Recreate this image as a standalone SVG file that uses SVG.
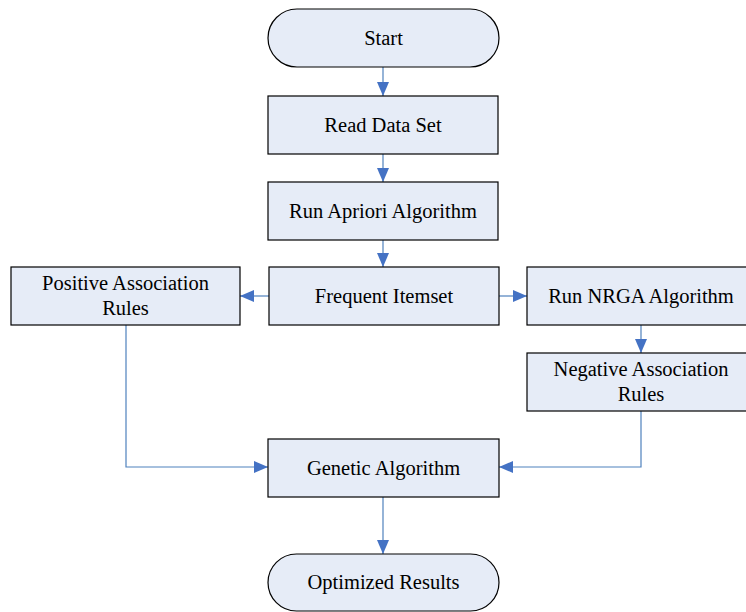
<svg xmlns="http://www.w3.org/2000/svg" width="746" height="612" viewBox="0 0 746 612">
<defs>
<marker id="ah" viewBox="0 0 14 12" refX="14" refY="6" markerWidth="14" markerHeight="12" markerUnits="userSpaceOnUse" orient="auto">
<path d="M0,0 L14,6 L0,12 Z" fill="#4472C4"/>
</marker>
<style>
.n{fill:#E6ECF7;stroke:#000;stroke-width:1.2}
.t{font-family:"Liberation Serif","Times New Roman",serif;font-size:20.5px;fill:#000;text-anchor:middle}
.c{fill:none;stroke:#4F81BD;stroke-width:1.2;marker-end:url(#ah)}
</style>
</defs>
<rect width="746" height="612" fill="#fff"/>
<g id="connectors">
<path class="c" d="M383,67 V96"/>
<path class="c" d="M383,154 V182"/>
<path class="c" d="M383,240 V267"/>
<path class="c" d="M269,296 H240"/>
<path class="c" d="M499,296 H527"/>
<path class="c" d="M641,325 V353"/>
<path class="c" d="M126,325 V467 H268"/>
<path class="c" d="M641,411 V467 H499"/>
<path class="c" d="M383,497 V554"/>
</g>
<g id="start"><rect class="n" x="268" y="9" width="231" height="58" rx="29"/><text class="t" x="383.5" y="45">Start</text></g>
<g id="read"><rect class="n" x="268" y="96" width="230" height="58"/><text class="t" x="383" y="132">Read Data Set</text></g>
<g id="apriori"><rect class="n" x="268" y="182" width="230" height="58"/><text class="t" x="383" y="218">Run Apriori Algorithm</text></g>
<g id="frequent"><rect class="n" x="269" y="267" width="230" height="58"/><text class="t" x="384" y="303">Frequent Itemset</text></g>
<g id="positive"><rect class="n" x="11" y="267" width="229" height="58"/><text class="t" x="125.5" y="290">Positive Association</text><text class="t" x="125.5" y="315">Rules</text></g>
<g id="nrga"><rect class="n" x="527" y="267" width="220" height="58"/><text class="t" x="641" y="303">Run NRGA Algorithm</text></g>
<g id="negative"><rect class="n" x="527" y="353" width="220" height="58"/><text class="t" x="641" y="376">Negative Association</text><text class="t" x="641" y="401">Rules</text></g>
<g id="genetic"><rect class="n" x="268" y="439" width="231" height="58"/><text class="t" x="383.5" y="475">Genetic Algorithm</text></g>
<g id="optimized"><rect class="n" x="268" y="554" width="231" height="57" rx="28.5"/><text class="t" x="383.5" y="589">Optimized Results</text></g>
</svg>
